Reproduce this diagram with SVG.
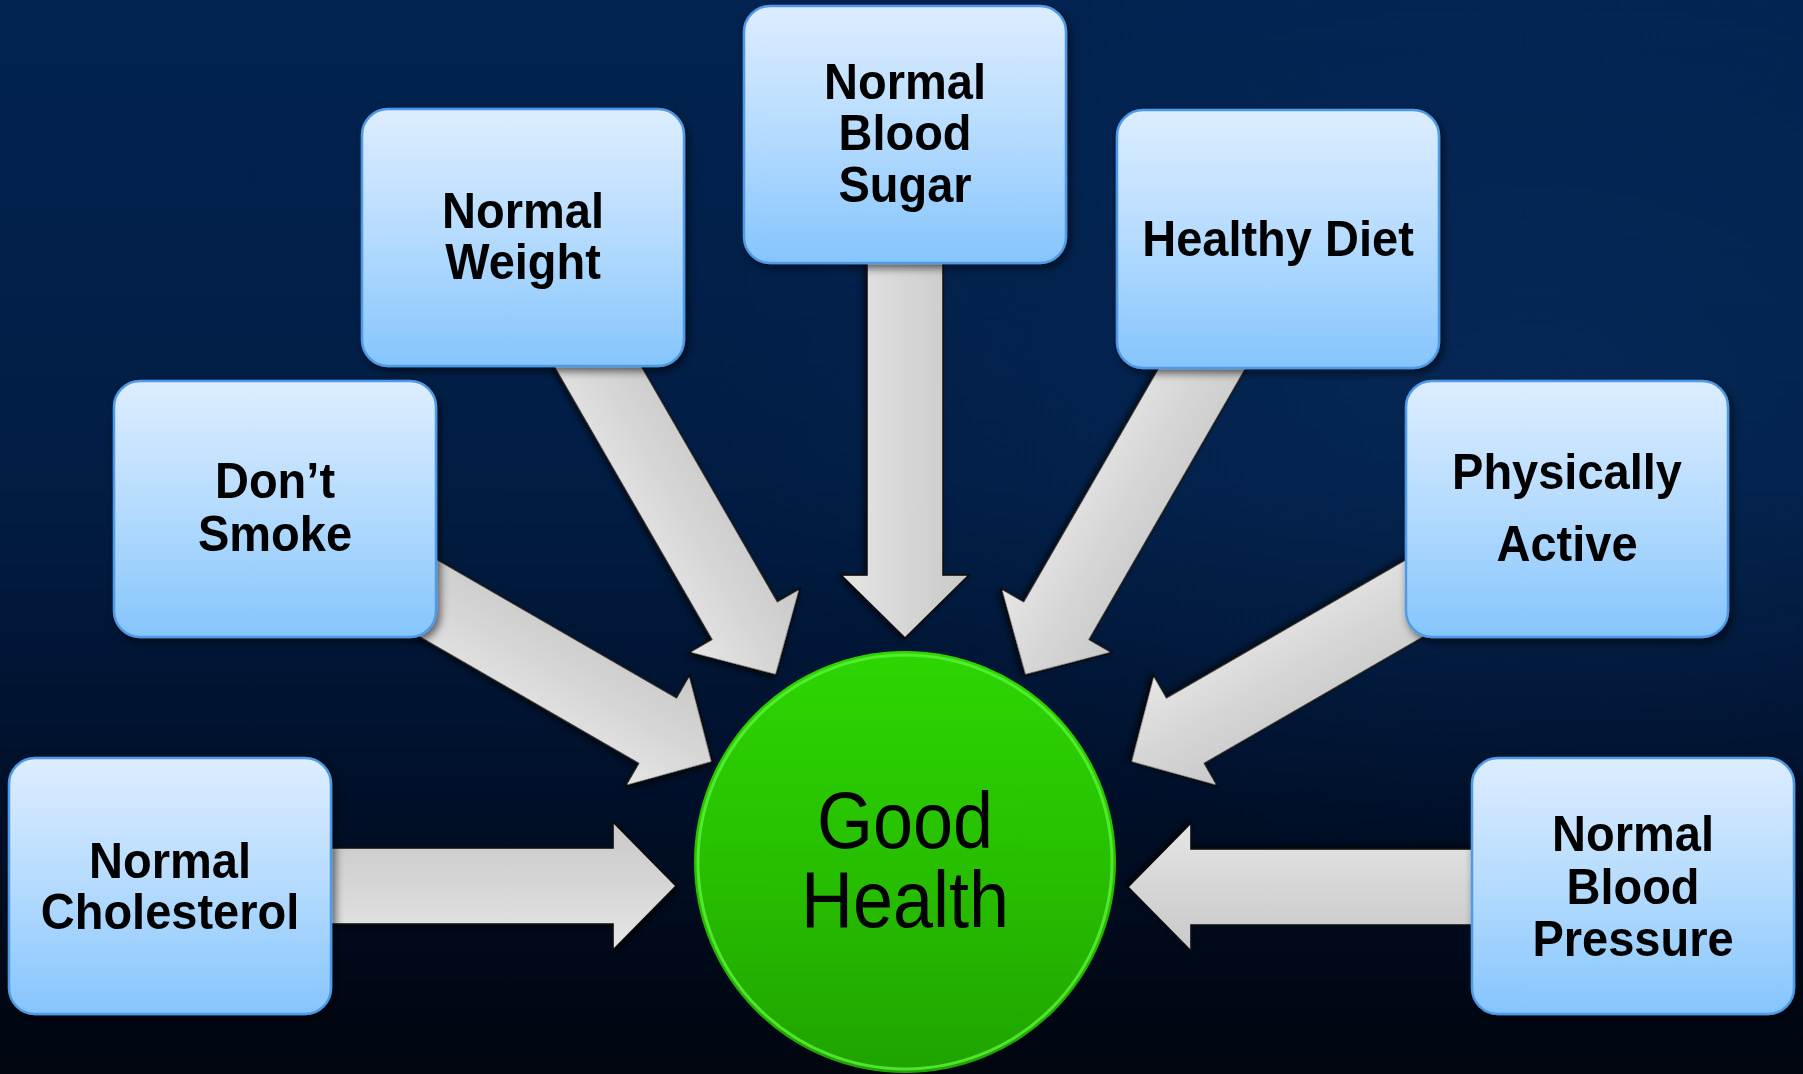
<svg xmlns="http://www.w3.org/2000/svg" width="1803" height="1074" viewBox="0 0 1803 1074">
<defs>
<linearGradient id="bg" x1="0" y1="0" x2="0" y2="1">
<stop offset="0" stop-color="#022350"/>
<stop offset="0.45" stop-color="#011d44"/>
<stop offset="0.75" stop-color="#000f28"/>
<stop offset="1" stop-color="#00050e"/>
</linearGradient>
<radialGradient id="glow" cx="0.85" cy="0.35" r="0.45">
<stop offset="0" stop-color="#0a3064" stop-opacity="0.5"/>
<stop offset="1" stop-color="#0a3064" stop-opacity="0"/>
</radialGradient>
<linearGradient id="boxg" x1="0" y1="0" x2="0" y2="1">
<stop offset="0" stop-color="#ddedff"/>
<stop offset="0.5" stop-color="#b5dbfe"/>
<stop offset="1" stop-color="#85c5fd"/>
</linearGradient>
<linearGradient id="arrg" x1="0" y1="0" x2="0" y2="1">
<stop offset="0" stop-color="#c9c9c9"/>
<stop offset="0.5" stop-color="#d6d6d6"/>
<stop offset="1" stop-color="#e6e6e6"/>
</linearGradient>
<linearGradient id="circg" x1="0" y1="0" x2="0" y2="1">
<stop offset="0" stop-color="#2dd602"/>
<stop offset="0.6" stop-color="#26bb00"/>
<stop offset="1" stop-color="#1fa300"/>
</linearGradient>
<filter id="sh" x="-20%" y="-20%" width="140%" height="140%">
<feDropShadow dx="3" dy="4" stdDeviation="4" flood-color="#000" flood-opacity="0.6"/>
</filter>
<filter id="ash" x="-20%" y="-20%" width="140%" height="140%">
<feDropShadow dx="2" dy="3" stdDeviation="3" flood-color="#000" flood-opacity="0.6"/>
</filter>
<polygon id="arr" points="-400,-38 -63,-38 -63,-64 0,0 -63,64 -63,38 -400,38"/>
</defs>
<style>
.box{fill:url(#boxg);stroke:#4f9ae6;stroke-width:2.5;filter:url(#sh)}
.lbl{font-family:"Liberation Sans",Arial,sans-serif;font-weight:bold;font-size:47px;fill:#000;text-anchor:middle}
.big{font-family:"Liberation Sans",Arial,sans-serif;font-size:72px;fill:#000;text-anchor:middle}
.a{fill:url(#arrg);stroke:#0a0a0a;stroke-width:1.6;filter:url(#ash)}
</style>
<rect x="0" y="0" width="1803" height="1074" fill="url(#bg)"/>
<rect x="0" y="0" width="1803" height="1074" fill="url(#glow)"/>

<g id="connectors">
<use href="#arr" class="a" transform="translate(676,886)"/>
<use href="#arr" class="a" transform="translate(1128,887) rotate(180)"/>
<use href="#arr" class="a" transform="translate(905,638) rotate(90)"/>
<use href="#arr" class="a" transform="translate(776,675) rotate(60)"/>
<use href="#arr" class="a" transform="translate(1025,675) rotate(120)"/>
<use href="#arr" class="a" transform="translate(712,762) rotate(30)"/>
<use href="#arr" class="a" transform="translate(1131,762) rotate(150)"/>
</g>

<g id="good-health">
<circle cx="905" cy="862" r="211" fill="url(#circg)"/>
<circle cx="905" cy="862" r="207" fill="none" stroke="#5ef23a" stroke-width="3" stroke-opacity="0.8"/>
<text class="big" transform="translate(905,848) scale(1,1.1)"><tspan x="0" y="0">Good</tspan><tspan x="0" y="72">Health</tspan></text>
</g>

<g id="normal-cholesterol">
<rect class="box" x="9" y="758" width="322" height="256" rx="26"/>
<text class="lbl" transform="translate(170,878) scale(1,1.08)">Normal</text>
<text class="lbl" transform="translate(170,929) scale(1,1.08)">Cholesterol</text>
</g>

<g id="dont-smoke">
<rect class="box" x="114" y="381" width="322" height="256" rx="26"/>
<text class="lbl" transform="translate(275,498) scale(1,1.08)">Don’t</text>
<text class="lbl" transform="translate(275,551) scale(1,1.08)">Smoke</text>
</g>

<g id="normal-weight">
<rect class="box" x="362" y="109" width="322" height="257" rx="26"/>
<text class="lbl" transform="translate(523,228) scale(1,1.08)">Normal</text>
<text class="lbl" transform="translate(523,279) scale(1,1.08)">Weight</text>
</g>

<g id="normal-blood-sugar">
<rect class="box" x="744" y="6" width="322" height="257" rx="26"/>
<text class="lbl" transform="translate(905,99) scale(1,1.08)">Normal</text>
<text class="lbl" transform="translate(905,150) scale(1,1.08)">Blood</text>
<text class="lbl" transform="translate(905,202) scale(1,1.08)">Sugar</text>
</g>

<g id="healthy-diet">
<rect class="box" x="1117" y="110" width="322" height="258" rx="26"/>
<text class="lbl" transform="translate(1278,256) scale(1,1.08)">Healthy Diet</text>
</g>

<g id="physically-active">
<rect class="box" x="1406" y="381" width="322" height="256" rx="26"/>
<text class="lbl" transform="translate(1567,489) scale(1,1.08)">Physically</text>
<text class="lbl" transform="translate(1567,561) scale(1,1.08)">Active</text>
</g>

<g id="normal-blood-pressure">
<rect class="box" x="1472" y="758" width="322" height="256" rx="26"/>
<text class="lbl" transform="translate(1633,851) scale(1,1.08)">Normal</text>
<text class="lbl" transform="translate(1633,904) scale(1,1.08)">Blood</text>
<text class="lbl" transform="translate(1633,956) scale(1,1.08)">Pressure</text>
</g>
</svg>
